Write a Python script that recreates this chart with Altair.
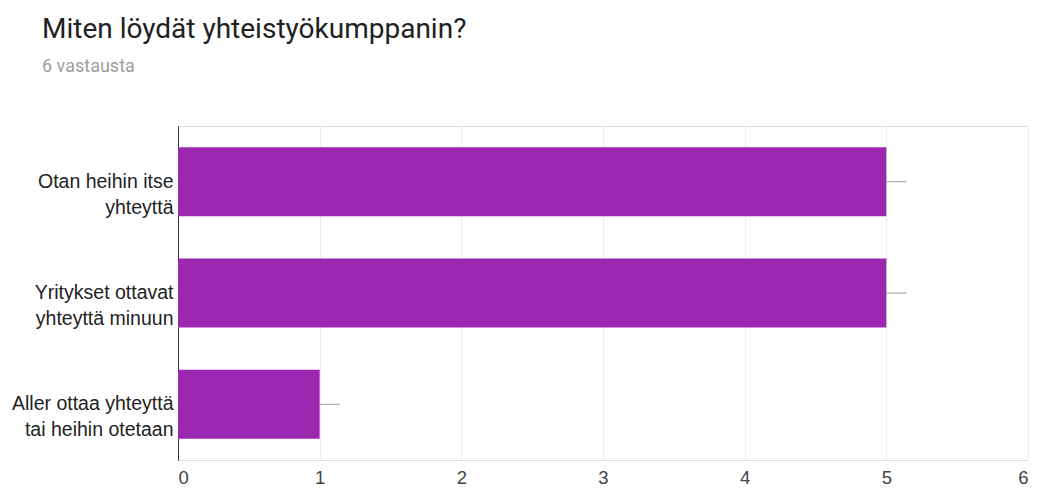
import altair as alt
import pandas as pd

categories = ["Otan heihin itse|yhteyttä", "Yritykset ottavat|yhteyttä minuun", "Aller ottaa yhteyttä|tai heihin otetaan"]
values = [5, 5, 1]
x_ticks = [0, 1, 2, 3, 4, 5, 6]

df = pd.DataFrame({"label": categories, "value": values})

y_axis = alt.Axis(
    title=None,
    labelExpr="split(datum.label, '|')",
    labelFont="Arial",
    labelFontSize=19.5,
    labelColor="#222222",
    labelLineHeight=26,
    labelPadding=5,
    ticks=False,
    domainColor="#333333",
    domainWidth=1,
    grid=False,
    labelLimit=250,
)
y_scale = alt.Scale(paddingInner=0.38, paddingOuter=0.19)

x_axis = alt.Axis(
    title=None,
    values=x_ticks,
    format="d",
    labelFont="Arial",
    labelFontSize=18.5,
    labelColor="#444444",
    labelPadding=8,
    ticks=False,
    domain=False,
    gridColor="#eeeeee",
    gridWidth=1,
)
x_scale = alt.Scale(domain=[0, 6], nice=False)

base = alt.Chart(df)

bars = base.mark_bar(color="#9c27b0").encode(
    y=alt.Y("label:N", sort=categories, scale=y_scale, axis=y_axis),
    x=alt.X("value:Q", scale=x_scale, axis=x_axis),
)

stems = base.mark_rule(color="#999999", strokeWidth=1, x2Offset=20).encode(
    y=alt.Y("label:N", sort=categories, scale=y_scale, axis=y_axis, bandPosition=0.5),
    x=alt.X("value:Q", scale=x_scale, axis=x_axis),
    x2=alt.X2("value:Q"),
)

chart = (
    alt.layer(bars, stems)
    .properties(
        width=850,
        height=334,
        padding={"left": 178, "top": 126, "right": 9, "bottom": 31},
        autosize=alt.AutoSizeParams(type="none"),
        title=alt.Title(
            "Miten löydät yhteistyökumppanin?",
            subtitle="6 vastausta",
            anchor="start",
            frame="group",
            dx=-136,
            offset=50,
            font="Roboto",
            fontSize=28,
            fontWeight="normal",
            color="#212121",
            subtitleFont="Roboto",
            subtitleFontSize=18,
            subtitleColor="#9e9e9e",
            subtitlePadding=14,
        ),
    )
    .configure_view(stroke="#eeeeee")
    .configure(background="white")
)

chart.save("out.html", embed_options={"renderer": "svg", "actions": False})
